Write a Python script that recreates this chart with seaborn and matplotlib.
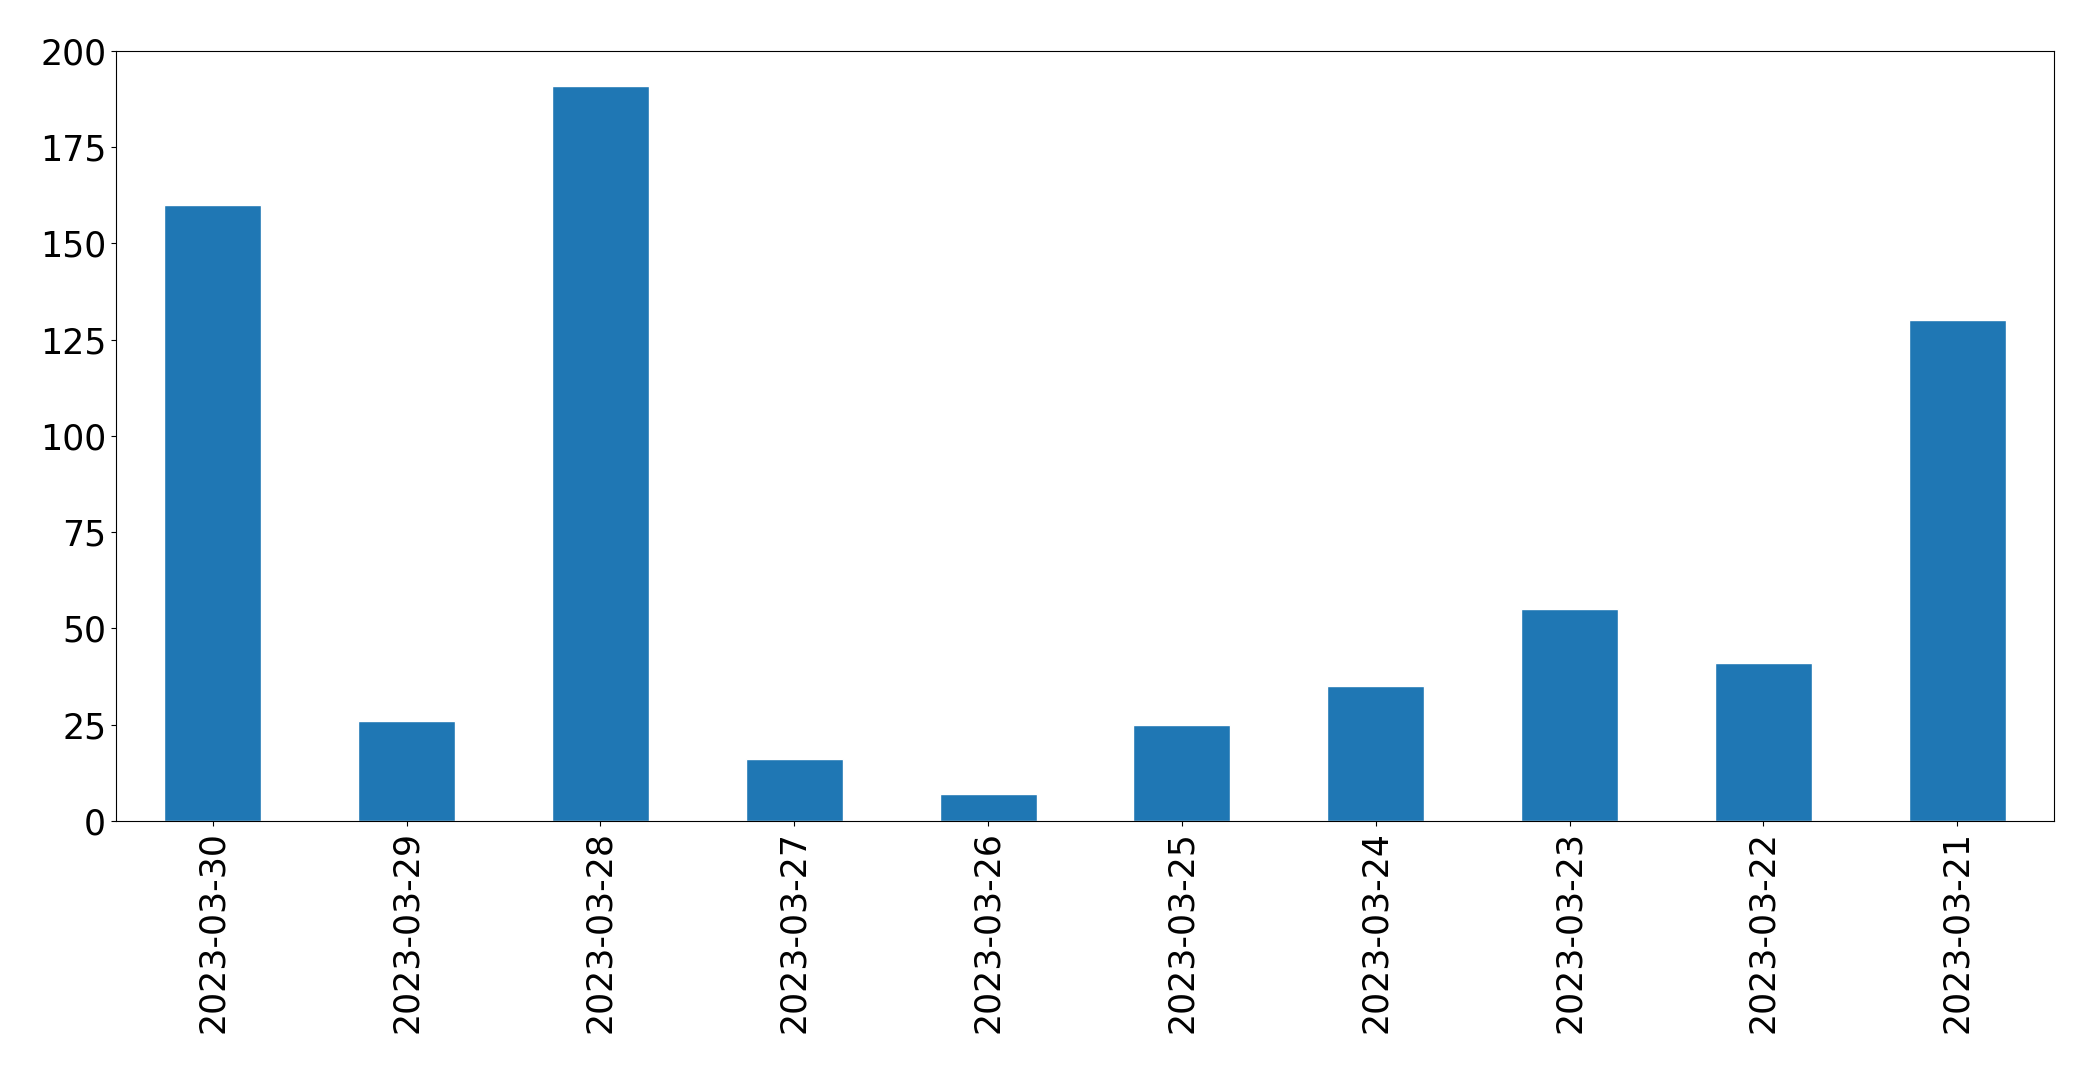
import matplotlib
matplotlib.use("Agg")
import matplotlib.pyplot as plt
import seaborn as sns
import pandas as pd

# dates on the x axis (newest first, as in the original)
dates = ["2023-03-30", "2023-03-29", "2023-03-28", "2023-03-27", "2023-03-26",
         "2023-03-25", "2023-03-24", "2023-03-23", "2023-03-22", "2023-03-21"]
counts = [160, 26, 191, 16, 7, 25, 35, 55, 41, 130]
y_ticks = [0, 25, 50, 75, 100, 125, 150, 175, 200]

df = pd.DataFrame({"date": dates, "count": counts})

sns.set_style("ticks", {"axes.edgecolor": "black", "text.color": "black",
                        "xtick.color": "black", "ytick.color": "black"})
plt.rcParams["font.family"] = ["DejaVu Sans"]

fig = plt.figure(figsize=(20.93, 10.73), dpi=100)
ax = fig.add_axes([0.0554, 0.2349, 0.926, 0.7176])

sns.barplot(data=df, x="date", y="count", order=dates, color="#1f77b4",
            saturation=1, width=0.5, ax=ax)

ax.set_xlim(-0.5, len(dates) - 0.5)
ax.set_ylim(0, 200)
ax.set_yticks(y_ticks)
ax.set_xlabel("")
ax.set_ylabel("")
ax.tick_params(axis="x", labelrotation=90, labelsize=25, colors="black")
ax.tick_params(axis="y", labelsize=25, colors="black")
for s in ax.spines.values():
    s.set_visible(True)
    s.set_linewidth(0.8)
    s.set_color("black")

fig.savefig("out.png", dpi=100)
